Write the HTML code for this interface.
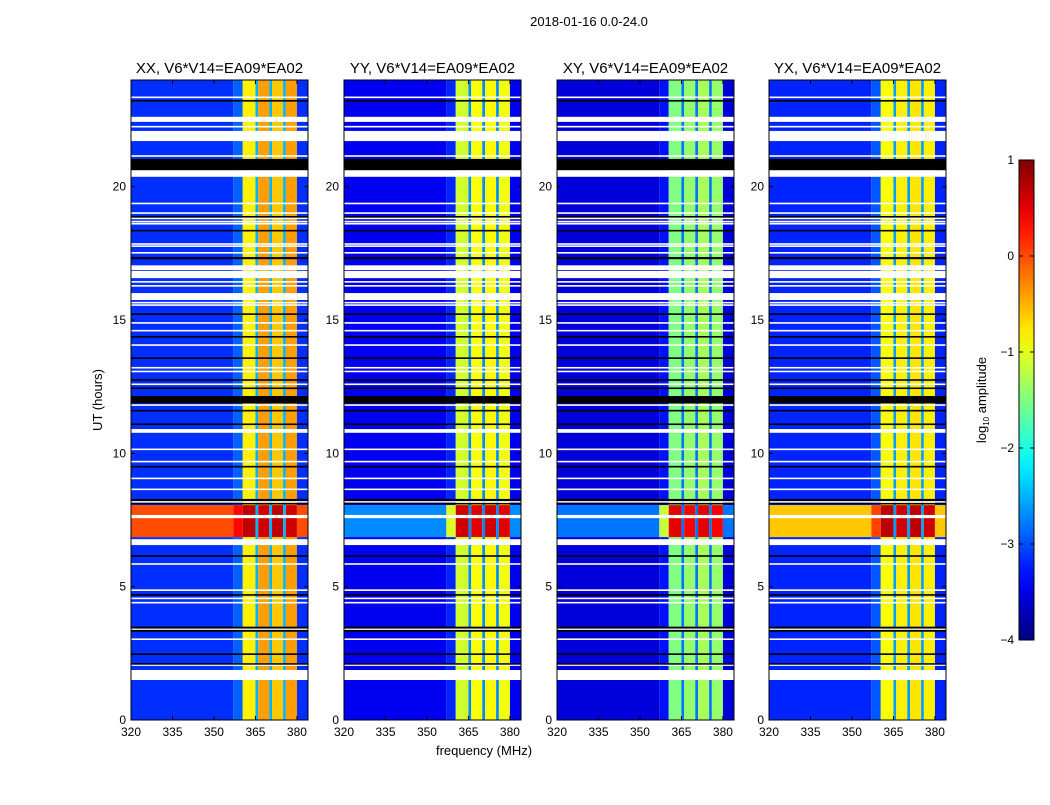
<!DOCTYPE html>
<html><head><meta charset="utf-8"><style>
body{margin:0;background:#fff;}
svg text{font-family:"Liberation Sans",sans-serif;fill:#000;}
</style></head><body>
<svg id="fig" width="1050" height="800" xmlns="http://www.w3.org/2000/svg">
<rect width="1050" height="800" fill="#fff"/>
<text x="589" y="26" font-size="13" text-anchor="middle">2018-01-16 0.0-24.0</text>
<text transform="translate(102,400) rotate(-90)" font-size="13" text-anchor="middle">UT (hours)</text>
<text x="484" y="755" font-size="13" text-anchor="middle">frequency (MHz)</text>
<text transform="translate(986,400) rotate(-90)" font-size="13" text-anchor="middle">log<tspan font-size="8" dy="3">10</tspan><tspan dy="-3"> amplitude</tspan></text>
</svg>
<script>
const panelTitles=["XX, V6*V14=EA09*EA02","YY, V6*V14=EA09*EA02","XY, V6*V14=EA09*EA02","YX, V6*V14=EA09*EA02"];
const xTicks=[320,335,350,365,380];
const yTicks=[0,5,10,15,20];
const cbTicks=[1,0,-1,-2,-3,-4];
const freqEdges=[320,357,360.4,365,366,370,371,375,376,380,384];
const lowLevel=[-3.15,-3.45,-3.55,-3.2];
const shoulderLevel=[-2.9,-3.2,-3.3,-2.95];
const sub1=[-0.8,-1.1,-1.5,-0.9];
const sub2=[-0.4,-0.9,-1.4,-0.8];
const sub3=[-0.6,-0.85,-1.3,-0.75];
const sub4=[-0.4,-0.95,-1.4,-0.8];
const stripeLevel=[-2.5,-2.7,-2.8,-2.6];
const hotLow=[0.0,-2.7,-2.8,-0.6];
const hotHigh=[0.7,0.6,0.5,0.7];
const hotSpan=[6.86,8.06];
const whiteRows=[[23.32,23.38],[22.43,22.62],[22.22,22.28],[21.71,22.09],[21.12,21.18],[20.37,20.62],[19.34,19.40],[18.98,19.04],[18.78,18.84],[18.66,18.72],[18.58,18.64],[17.82,17.88],[17.74,17.80],[17.49,17.55],[16.87,17.05],[16.57,16.84],[16.40,16.46],[16.25,16.31],[15.75,16.01],[15.62,15.68],[15.53,15.59],[14.86,14.92],[14.57,14.63],[14.03,14.09],[13.18,13.24],[13.04,13.10],[12.56,12.62],[11.78,11.84],[10.77,10.91],[10.12,10.18],[9.66,9.72],[9.03,9.09],[8.62,8.68],[8.16,8.21],[7.57,7.69],[6.56,6.78],[5.82,5.88],[4.84,4.90],[4.53,4.59],[4.37,4.43],[3.38,3.43],[3.00,3.06],[2.03,2.09],[1.5,1.875]];
const blackRows=[[23.19,23.25],[20.62,21.04],[18.84,18.90],[18.32,18.38],[17.28,17.36],[15.19,15.25],[14.34,14.40],[13.54,13.60],[12.72,12.78],[12.41,12.47],[11.87,12.15],[11.57,11.63],[11.06,11.12],[9.47,9.53],[8.21,8.29],[8.10,8.14],[6.12,6.18],[4.66,4.72],[3.43,3.5],[3.31,3.38],[2.44,2.50],[2.09,2.13]];

const NS="http://www.w3.org/2000/svg";
const svg=document.getElementById('fig');
const panelX=[131,344,557,769], PW=177, PT=80, PB=720;
const fMin=320,fMax=384,tMin=0,tMax=24;
function xs(p,f){return panelX[p]+(f-fMin)/(fMax-fMin)*PW;}
function ys(t){return PB-(t-tMin)/(tMax-tMin)*(PB-PT);}
function jet(v){let t=(v+4)/5;t=Math.max(0,Math.min(1,t));
 const c=x=>Math.round(255*Math.max(0,Math.min(1,x)));
 return `rgb(${c(1.5-Math.abs(4*t-3))},${c(1.5-Math.abs(4*t-2))},${c(1.5-Math.abs(4*t-1))})`;}
function el(tag,attrs,parent){const e=document.createElementNS(NS,tag);for(const k in attrs)e.setAttribute(k,attrs[k]);(parent||svg).appendChild(e);return e;}
function colLevels(p,hot){
 const hi=hot?hotHigh[p]:null;
 return [hot?hotLow[p]:lowLevel[p], hot?(hotLow[p]+hotHigh[p])/2:shoulderLevel[p],
   hot?hi:sub1[p], stripeLevel[p], hot?hi-0.1:sub2[p], stripeLevel[p], hot?hi:sub3[p], stripeLevel[p], hot?hi-0.1:sub4[p], hot?hotLow[p]:lowLevel[p]];}
for(let p=0;p<4;p++){
 const g=el('g',{});
 
 
 const segs=[[tMin,hotSpan[0],false],[hotSpan[0],hotSpan[1],true],[hotSpan[1],tMax,false]];
 segs.forEach(s=>{
  const lv=colLevels(p,s[2]);
  for(let i=0;i<freqEdges.length-1;i++){
   const x0=xs(p,freqEdges[i]),x1=xs(p,freqEdges[i+1]);
   const r=el('rect',{x:x0,y:ys(s[1]),width:x1-x0,height:ys(s[0])-ys(s[1]),fill:jet(lv[i])},g);
   
   
  }
 });
 whiteRows.forEach(w=>{const r=el('rect',{x:xs(p,fMin),y:ys(w[1]),width:PW,height:Math.max(1.5,ys(w[0])-ys(w[1])),fill:'#fff'},g);
  
  });
 blackRows.forEach(w=>{const r=el('rect',{x:xs(p,fMin),y:ys(w[1]),width:PW,height:Math.max(1.5,ys(w[0])-ys(w[1])),fill:'#000'},g);
  
  });
 const fr=el('rect',{x:panelX[p],y:PT,width:PW,height:PB-PT,fill:'none',stroke:'#000','stroke-width':1},g);
 
 
 const tt=el('text',{x:panelX[p]+PW/2,y:73,'font-size':15,'text-anchor':'middle'},g);
 tt.textContent=panelTitles[p];
 
 
 xTicks.forEach(f=>{const x=xs(p,f);
  el('line',{x1:x,x2:x,y1:PB,y2:PB-4,stroke:'#000'},g);el('line',{x1:x,x2:x,y1:PT,y2:PT+4,stroke:'#000'},g);
  const t=el('text',{x:x,y:PB+16,'font-size':12,'text-anchor':'middle'},g);t.textContent=f;
  
  });
 yTicks.forEach(v=>{const y=ys(v);
  el('line',{x1:panelX[p],x2:panelX[p]+4,y1:y,y2:y,stroke:'#000'},g);el('line',{x1:panelX[p]+PW,x2:panelX[p]+PW-4,y1:y,y2:y,stroke:'#000'},g);
  const t=el('text',{x:panelX[p]-5,y:y+4,'font-size':12,'text-anchor':'end'},g);t.textContent=v;
  
  });
}
const cbX=1019,cbW=15,cbT=160,cbB=640;
function cy(v){return cbB-(v+4)/5*(cbB-cbT);}
const defs=el('defs',{});const lg=el('linearGradient',{id:'jetg',x1:0,y1:1,x2:0,y2:0},defs);
for(let i=0;i<=20;i++){el('stop',{offset:i/20,'stop-color':jet(-4+i*5/20)},lg);}
const cb=el('rect',{x:cbX,y:cbT,width:cbW,height:cbB-cbT,fill:'url(#jetg)',stroke:'#000'});


cbTicks.forEach(v=>{const y=cy(v);
 el('line',{x1:cbX,x2:cbX+4,y1:y,y2:y,stroke:'#000'});el('line',{x1:cbX+cbW,x2:cbX+cbW-4,y1:y,y2:y,stroke:'#000'});
 const t=el('text',{x:cbX-5,y:y+4,'font-size':12,'text-anchor':'end'});t.textContent=v<0?'\u2212'+(-v):v;
 
 });
</script>
</body></html>
